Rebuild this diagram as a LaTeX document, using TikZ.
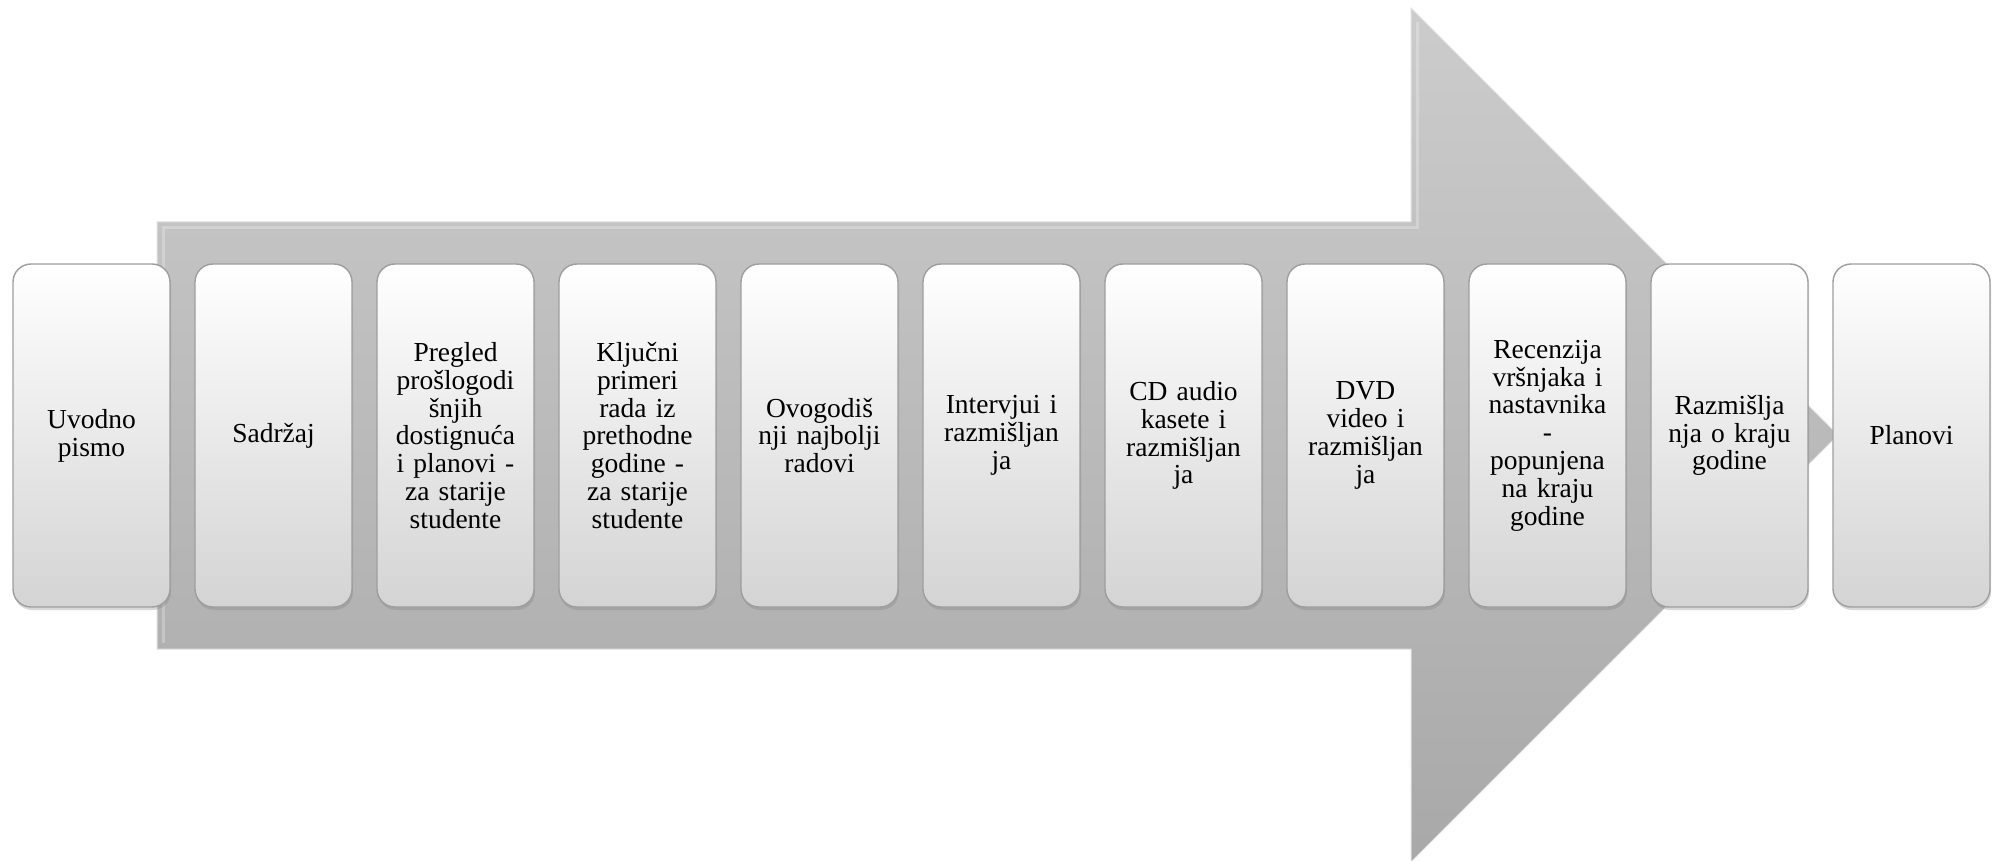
\documentclass[tikz,border=0pt]{standalone}
\usepackage{fontspec}
\setmainfont{Liberation Serif}
\usetikzlibrary{shadows}

\begin{document}
\begin{tikzpicture}[x=1pt,y=-1pt]
                \useasboundingbox (0,0) rectangle (1994,861);
                \tikzstyle{arrowbody}=[top color=black!20, bottom color=black!34, draw=black!12, line width=1pt]
                \tikzstyle{bevel}=[draw=white, opacity=0.25, line width=3pt]

                % big background arrow
                \path[arrowbody] (157,222) -- (1411,222) -- (1411,8) -- (1838,435)
                    -- (1411,862) -- (1411,649) -- (157,649) -- cycle;
                \draw[bevel] (163,643) -- (163,228) -- (1417,228) -- (1417,22);

                \tikzstyle{every node}=[rectangle, rounded corners=18pt, minimum width=157pt, minimum height=343pt,
                    text width=150pt, align=center, inner sep=0pt, top color=white, bottom color=black!17,
                    draw=black!38, line width=1.4pt, drop shadow={opacity=0.3, shadow xshift=1pt, shadow yshift=-3pt},
                    font=\fontsize{27.5}{27.8}\selectfont, text=black]

                \node (intro) at (91.5,435.5) {Uvodno\\pismo};
                \node (contents) at (273.5,435.5) {Sadržaj};
                \node (review) at (455.5,435.5) {Pregled\\prošlogodi\\šnjih\\dostignuća\\i planovi -\\za starije\\studente};
                \node (samples) at (637.5,435.5) {Ključni\\primeri\\rada iz\\prethodne\\godine -\\za starije\\studente};
                \node (best) at (819.5,435.5) {Ovogodiš\\nji najbolji\\radovi};
                \node (interviews) at (1001.5,435.5) {Intervjui i\\razmišljan\\ja};
                \node (audio) at (1183.5,435.5) {CD audio\\kasete i\\razmišljan\\ja};
                \node (video) at (1365.5,435.5) {DVD\\video i\\razmišljan\\ja};
                \node (peer) at (1547.5,435.5) {Recenzija\\vršnjaka i\\nastavnika\\-\\popunjena\\na kraju\\godine};
                \node (reflect) at (1729.5,435.5) {Razmišlja\\nja o kraju\\godine};
                \node (plans) at (1911.5,435.5) {Planovi};
            \end{tikzpicture}
\end{document}
